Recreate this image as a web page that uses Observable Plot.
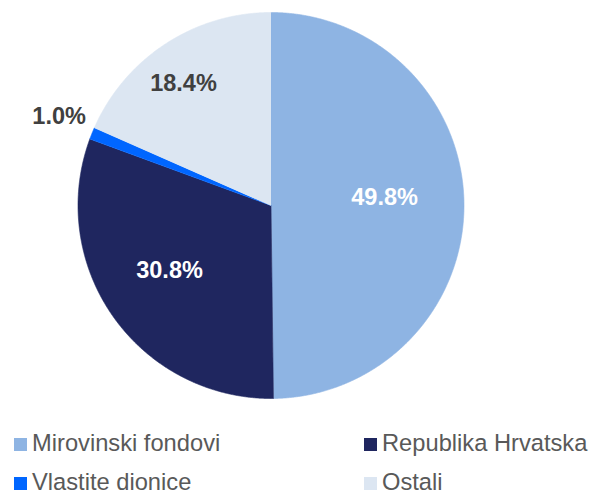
<!DOCTYPE html>
<html>
<head>
<meta charset="utf-8">
<script src="https://cdn.jsdelivr.net/npm/d3@7"></script>
<script src="https://cdn.jsdelivr.net/npm/@observablehq/plot@0.6"></script>
<style>
  html, body { margin: 0; padding: 0; background: #fff; }
  body { width: 592px; height: 495px; position: relative; overflow: hidden; font-family: "Liberation Sans", Arial, sans-serif; }
  #chart { position: absolute; left: 0; top: 0; }
  #legend { position: absolute; left: 14px; top: 431.5px; width: 578px; display: grid; grid-template-columns: 350px 1fr; row-gap: 17px; }
  .item { font-size: 23.7px; line-height: 22px; height: 22px; color: #595959; white-space: nowrap; }
  .sw { display: inline-block; width: 13px; height: 13px; margin-right: 5px; vertical-align: baseline; }
</style>
</head>
<body>
<div id="chart"></div>
<div id="legend"></div>
<script>
// ---- data ----
const categories = ["Mirovinski fondovi", "Republika Hrvatska", "Vlastite dionice", "Ostali"];
const shares = [49.8, 30.8, 1.0, 18.4];
const labels = ["49.8%", "30.8%", "1.0%", "18.4%"];

// ---- styles ----
const colors = ["#8EB4E3", "#1F265F", "#0066FF", "#DCE6F2"];
const labelColors = ["#FFFFFF", "#FFFFFF", "#404040", "#404040"];
// label placement: [radius fraction, angle in degrees clockwise from top]
const labelRadius = [0.59, 0.624, 1.19, 0.777];
const labelAngle = [85.8, 237.4, 292.7, 324.3];

// build slice polygons (unit circle, clockwise from 12 o'clock)
const total = d3.sum(shares);
const slicePts = [];
let acc = 0;
categories.forEach((name, i) => {
  const a0 = acc / total * 2 * Math.PI;
  acc += shares[i];
  const a1 = acc / total * 2 * Math.PI;
  slicePts.push({name, x: 0, y: 0});
  const n = Math.max(2, Math.ceil((a1 - a0) / (Math.PI / 720)));
  for (let k = 0; k <= n; k++) {
    const a = a0 + (a1 - a0) * k / n;
    slicePts.push({name, x: Math.sin(a), y: Math.cos(a)});
  }
});

const labelData = categories.map((name, i) => {
  const a = labelAngle[i] * Math.PI / 180;
  return {name, text: labels[i], x: labelRadius[i] * Math.sin(a), y: labelRadius[i] * Math.cos(a), color: labelColors[i]};
});

const plot = Plot.plot({
  width: 592,
  height: 415,
  margin: 0,
  x: {domain: [-1, 1], range: [77.5, 463.5], axis: null},
  y: {domain: [-1, 1], range: [398, 12], axis: null},
  color: {domain: categories, range: colors, legend: false},
  style: {background: "#fff", fontFamily: "'Liberation Sans', Arial, sans-serif"},
  marks: [
    Plot.line(slicePts, {x: "x", y: "y", z: "name", fill: "name", stroke: "name", strokeWidth: 0.6, curve: "linear"}),
    Plot.text(labelData, {filter: d => d.color === "#FFFFFF", x: "x", y: "y", text: "text", fill: "#FFFFFF", fontSize: 23.5, fontWeight: "bold"}),
    Plot.text(labelData, {filter: d => d.color !== "#FFFFFF", x: "x", y: "y", text: "text", fill: "#404040", fontSize: 23.5, fontWeight: "bold"})
  ]
});
document.getElementById("chart").appendChild(plot);

// legend (HTML, row-major 2 columns)
const legend = d3.select("#legend");
categories.forEach((name, i) => {
  const it = legend.append("div").attr("class", "item");
  it.append("span").attr("class", "sw").style("background", colors[i]);
  it.append("span").text(name);
});
</script>
</body>
</html>
